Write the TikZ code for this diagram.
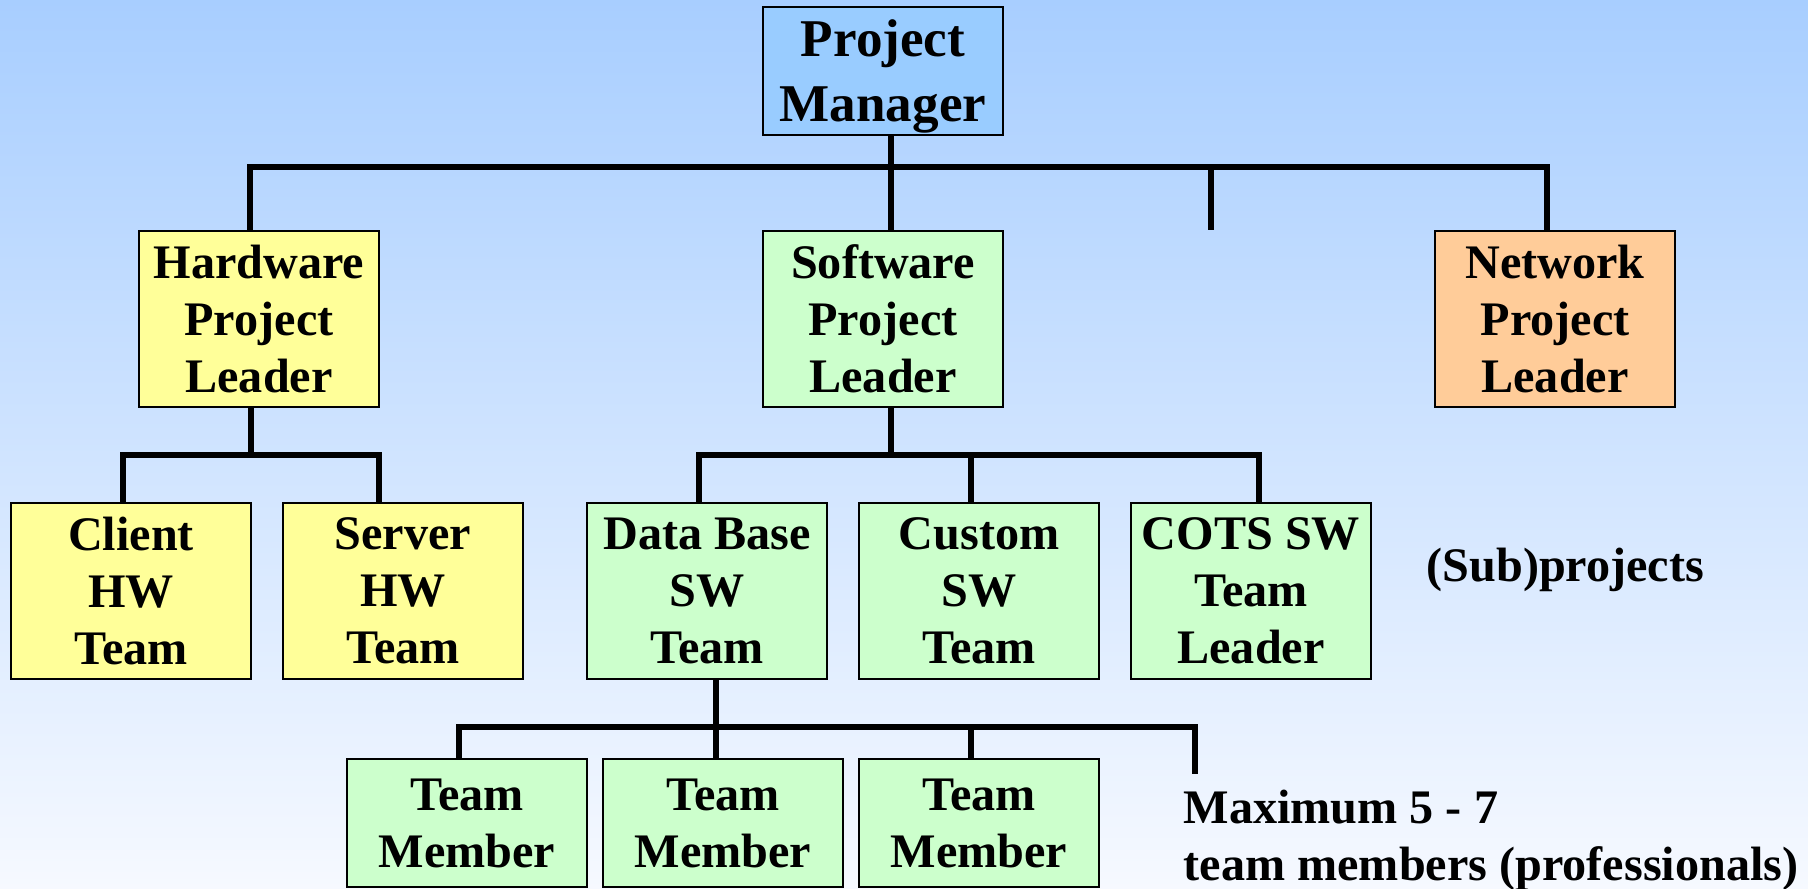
\documentclass[tikz,border=0pt]{standalone}
\usepackage{fontspec}
\setmainfont{Liberation Serif}
\usetikzlibrary{calc}
\definecolor{bgtop}{RGB}{168,206,255}
\definecolor{bgbottom}{RGB}{246,249,255}
\definecolor{pmblue}{RGB}{153,204,255}
\definecolor{hwyellow}{RGB}{255,255,153}
\definecolor{swgreen}{RGB}{204,255,204}
\definecolor{nworange}{RGB}{255,204,153}

\begin{document}
\begin{tikzpicture}[x=0.01cm, y=-0.01cm,
    unit/.style={rectangle, draw=black, line width=0.5pt, minimum width=2.4cm,
        minimum height=1.76cm, inner sep=2pt, align=center,
        font=\fontsize{13.7}{16.2}\selectfont\bfseries},
    member/.style={unit, minimum height=1.28cm},
    link/.style={line width=1.5pt, line join=miter},
    note/.style={inner sep=0pt, align=left,
        font=\fontsize{13.7}{16.2}\selectfont\bfseries}
]
    % page and background
    \useasboundingbox (0,0) rectangle (1808,889);
    \shade[top color=bgtop, bottom color=bgbottom] (0,0) rectangle (1808,889);

    % boxes
    \node[unit, fill=pmblue, minimum height=1.28cm, text depth=0pt,
        font=\fontsize{15.1}{18.5}\selectfont\bfseries] (pm) at (883,71) {Project\\Manager};

    \node[unit, fill=hwyellow] (hw) at (259,319) {Hardware\\Project\\Leader};
    \node[unit, fill=swgreen] (sw) at (883,319) {Software\\Project\\Leader};
    \node[unit, fill=nworange] (nw) at (1555,319) {Network\\Project\\Leader};

    \node[unit, fill=hwyellow] (client) at (131,591) {Client\\HW\\Team};
    \node[unit, fill=hwyellow] (server) at (403,591) {Server\\HW\\Team};
    \node[unit, fill=swgreen] (db) at (707,591) {Data Base\\SW\\Team};
    \node[unit, fill=swgreen] (custom) at (979,591) {Custom\\SW\\Team};
    \node[unit, fill=swgreen] (cots) at (1251,591) {COTS SW\\Team\\Leader};

    \node[member, fill=swgreen] (tm1) at (467,823) {Team\\Member};
    \node[member, fill=swgreen] (tm2) at (723,823) {Team\\Member};
    \node[member, fill=swgreen] (tm3) at (979,823) {Team\\Member};

    \node[note, anchor=west] (sub) at (1426,570) {(Sub)projects};
    \node[note, anchor=north west] (limit) at (1183,789)
        {Maximum 5 - 7\\team members (professionals)};

    % top level bus
    \coordinate (top) at (891,167);
    \coordinate (gap) at (1211,230);
    \draw[link] (pm.south -| top) -- (sw.north -| top);
    \draw[link] ($(hw.north)+(-9,0)$) |- (top) -| ($(nw.north)+(-8,0)$);
    \draw[link] (gap |- top) -- (gap);

    % hardware branch
    \coordinate (hwbus) at (251,455);
    \draw[link] (hw.south -| hwbus) -- (hwbus);
    \draw[link] ($(client.north)+(-8,0)$) |- (hwbus) -| ($(server.north)+(-24,0)$);

    % software branch
    \coordinate (swbus) at (891,455);
    \draw[link] (sw.south -| swbus) -- (swbus);
    \draw[link] ($(db.north)+(-8,0)$) |- (swbus) -| ($(cots.north)+(8,0)$);
    \draw[link] ($(custom.north)+(-8,0)$) -- ++(0,-48);

    % team members
    \coordinate (dbbus) at (716,727);
    \coordinate (more) at (1195,774);
    \draw[link] (db.south -| dbbus) -- ($(tm2.north)+(-7,0)$);
    \draw[link] ($(tm1.north)+(-8,0)$) |- (more |- dbbus) -- (more);
    \draw[link] ($(tm3.north)+(-8,0)$) -- ++(0,-31);
\end{tikzpicture}
\end{document}
